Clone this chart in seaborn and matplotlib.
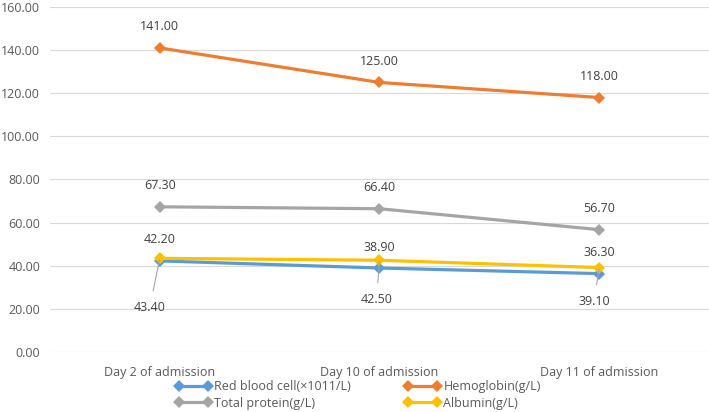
import seaborn as sns
import matplotlib.pyplot as plt
import pandas as pd

days = ["Day 2 of admission", "Day 10 of admission", "Day 11 of admission"]
rbc = [42.2, 38.9, 36.3]
hemoglobin = [141.0, 125.0, 118.0]
total_protein = [67.3, 66.4, 56.7]
albumin = [43.4, 42.5, 39.1]

names = ["Red blood cell(\u00d71011/L)", "Hemoglobin(g/L)", "Total protein(g/L)", "Albumin(g/L)"]
colors = ["#5b9bd5", "#ed7d31", "#a5a5a5", "#ffc000"]

df = pd.DataFrame({
    "x": [0, 1, 2] * 4,
    "value": rbc + hemoglobin + total_protein + albumin,
    "series": [n for n in names for _ in days],
})

sns.set_style("white")
plt.rcParams['font.family'] = ['Open Sans', 'DejaVu Sans']

fig, ax = plt.subplots(figsize=(7.09, 4.12), dpi=100)
fig.subplots_adjust(left=0.0705, right=1.0, top=0.983, bottom=0.146)

sns.lineplot(data=df, x="x", y="value", hue="series", palette=colors,
             marker="D", markersize=6, linewidth=2.3, markeredgewidth=0,
             ax=ax, legend=False, sort=False)

lab = dict(fontsize=9, color="#404040", ha="center", va="center",
           textcoords="offset pixels")
# labels above the points
for series in (hemoglobin, total_protein, rbc):
    for i, v in enumerate(series):
        ax.annotate(f"{v:.2f}", (i, v), xytext=(0, 21), **lab)
# albumin labels below with leader lines
below = [(-10, -49), (-3, -39), (-5, -34)]
for i, v in enumerate(albumin):
    ax.annotate(f"{v:.2f}", (i, v), xytext=below[i],
                arrowprops=dict(arrowstyle="-", color="#a5a5a5", lw=0.8,
                                shrinkA=5, shrinkB=1), **lab)

ax.set_xlim(-0.5, 2.5)
ax.set_ylim(0, 160)
ax.set_yticks(range(0, 161, 20))
ax.set_yticklabels([f"{t:.2f}" for t in range(0, 161, 20)])
ax.set_xticks([0, 1, 2])
ax.set_xticklabels(days)
ax.set_xlabel("")
ax.set_ylabel("")
ax.tick_params(axis="y", labelsize=9, colors="#595959", length=0, pad=7)
ax.tick_params(axis="x", labelsize=9, colors="#595959", length=0, pad=10)
ax.yaxis.grid(True, color="#d9d9d9", linewidth=0.8)
for s in ax.spines.values():
    s.set_visible(False)


def handle(c):
    return plt.Line2D([0, 1], [0, 0], color=c, lw=2.3, marker="D",
                      markersize=6, markeredgewidth=0)


legend_kw = dict(loc="upper left", frameon=False, fontsize=9, handlelength=2.9,
                 handletextpad=0.25, labelspacing=0.3, numpoints=2,
                 borderpad=0, borderaxespad=0, labelcolor="#595959")
leg1 = fig.legend([handle(colors[0]), handle(colors[2])], [names[0], names[2]],
                  bbox_to_anchor=(175 / 709, 1 - 380 / 412), **legend_kw)
leg2 = fig.legend([handle(colors[1]), handle(colors[3])], [names[1], names[3]],
                  bbox_to_anchor=(404 / 709, 1 - 380 / 412), **legend_kw)

fig.savefig("out.png", dpi=100)
